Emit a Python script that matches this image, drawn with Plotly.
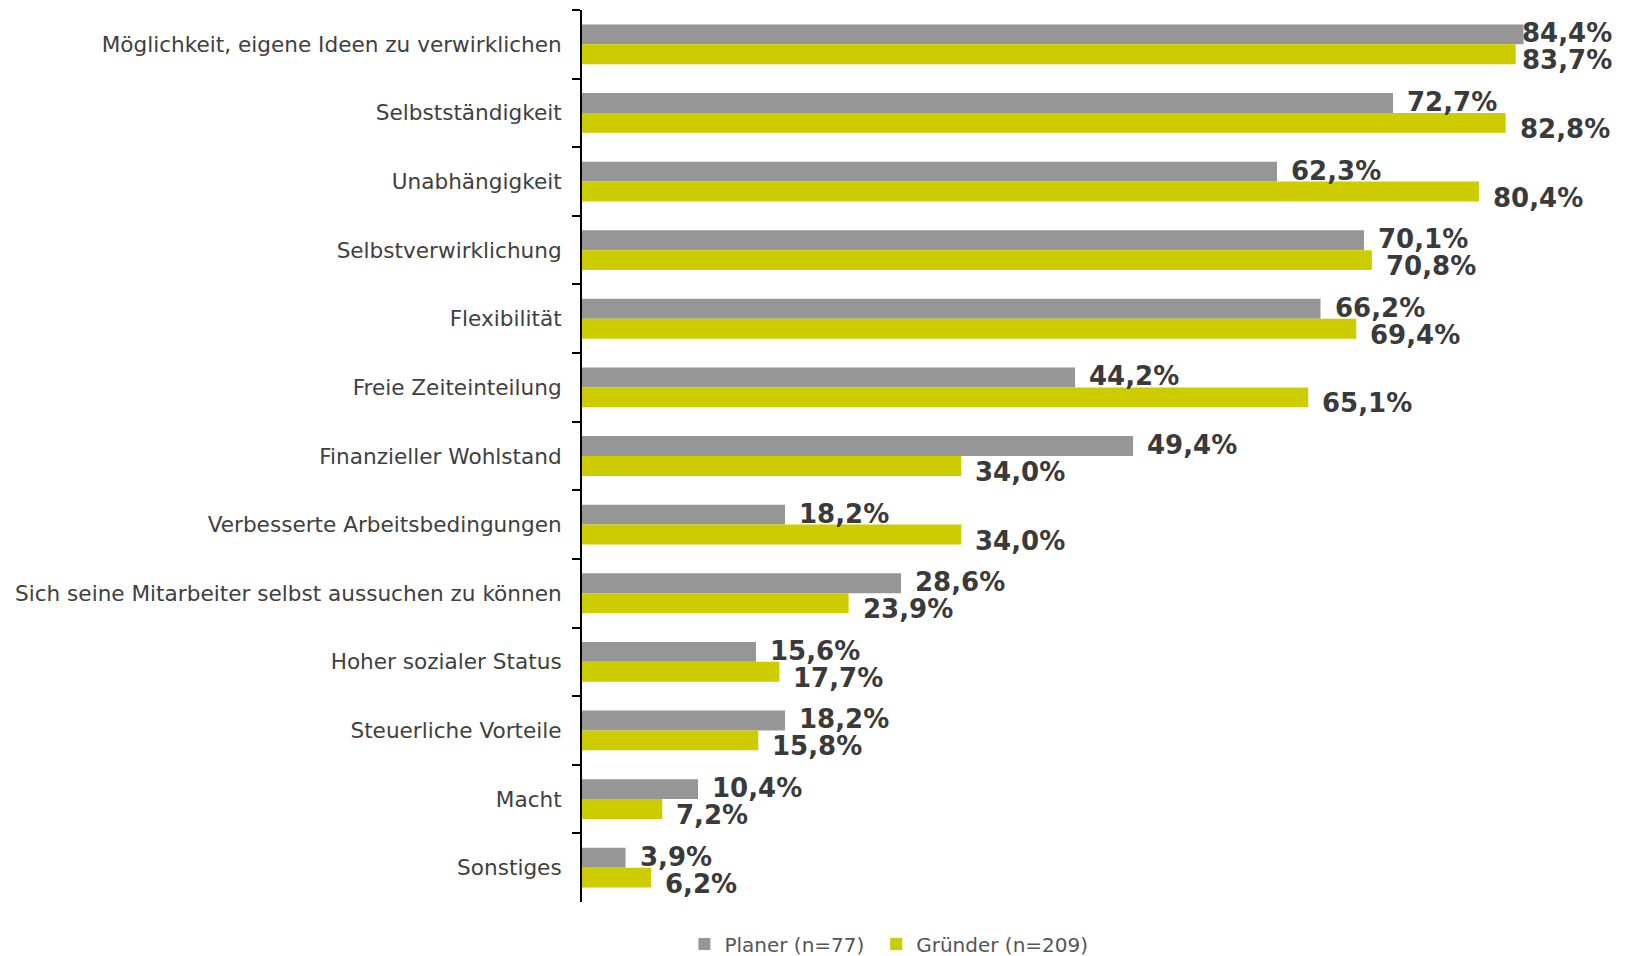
import plotly.graph_objects as go

categories = [
    "Möglichkeit, eigene Ideen zu verwirklichen",
    "Selbstständigkeit",
    "Unabhängigkeit",
    "Selbstverwirklichung",
    "Flexibilität",
    "Freie Zeiteinteilung",
    "Finanzieller Wohlstand",
    "Verbesserte Arbeitsbedingungen",
    "Sich seine Mitarbeiter selbst aussuchen zu können",
    "Hoher sozialer Status",
    "Steuerliche Vorteile",
    "Macht",
    "Sonstiges",
]
planer = [84.4, 72.7, 62.3, 70.1, 66.2, 44.2, 49.4, 18.2, 28.6, 15.6, 18.2, 10.4, 3.9]
gruender = [83.7, 82.8, 80.4, 70.8, 69.4, 65.1, 34.0, 34.0, 23.9, 17.7, 15.8, 7.2, 6.2]

COLORS = {
    'planer': '#969696',
    'gruender': '#cccc00',
    'label': '#3a3a3a',
    'text': '#404040',
}

# page body has an 8px margin, so the figure sits 8px in from the window edge
W, H = 1618, 948
M = dict(l=574, r=40, t=2, b=54)
XMAX = 90
px_per_unit = (W - M['l'] - M['r']) / XMAX
LABEL_W = 93        # approx width of a "84,4%" label at 26px bold
LABEL_GAP = 15
ANN_PAD = 3         # annotation inner padding
RIGHT_LIMIT = 1608  # labels squeezed to end here (like the original)

fig = go.Figure()
series = [
    ("Planer (n=77)", planer, COLORS['planer'], 11, 'legend'),
    ("Gründer (n=209)", gruender, COLORS['gruender'], -16, 'legend2'),
]
for name, vals, col, yshift, leg in series:
    fig.add_trace(go.Bar(
        y=categories,
        x=vals,
        orientation='h',
        name=name,
        legend=leg,
        showlegend=True,
        marker=dict(color=col, line=dict(width=0)),
    ))
    for cat, v in zip(categories, vals):
        bar_end = M['l'] + v * px_per_unit
        shift = min(LABEL_GAP, RIGHT_LIMIT - LABEL_W - bar_end) - ANN_PAD
        fig.add_annotation(
            x=v, y=cat,
            text=f"{v:.1f}%".replace(".", ","),
            showarrow=False,
            xanchor='left', yanchor='middle',
            xshift=shift, yshift=yshift,
            font=dict(family="DejaVu Sans", size=26, color=COLORS['label'], weight='bold'),
        )

leg_common = dict(
    orientation='h',
    xref='paper', yref='container',
    xanchor='left',
    y=1 - 936 / H, yanchor='middle',
    font=dict(size=20, color='#555555'),
    bgcolor='rgba(0,0,0,0)',
    visible=True,
)

fig.update_layout(
    width=W,
    height=H,
    showlegend=True,
    barmode='group',
    bargap=0.42,
    bargroupgap=0,
    plot_bgcolor='white',
    paper_bgcolor='white',
    margin=M,
    font=dict(family="DejaVu Sans", color=COLORS['text']),
    legend=dict(x=0.102, **leg_common),
    legend2=dict(x=0.293, **leg_common),
    xaxis=dict(range=[0, XMAX], visible=False),
    yaxis=dict(
        autorange='reversed',
        showline=True,
        linecolor='black',
        linewidth=2,
        ticks='outside',
        tickson='boundaries',
        ticklen=8,
        tickwidth=2,
        tickcolor='black',
        ticklabelstandoff=14,
        tickfont=dict(size=21.6, color=COLORS['text']),
        showgrid=False,
    ),
)

fig.write_html("out.html")
